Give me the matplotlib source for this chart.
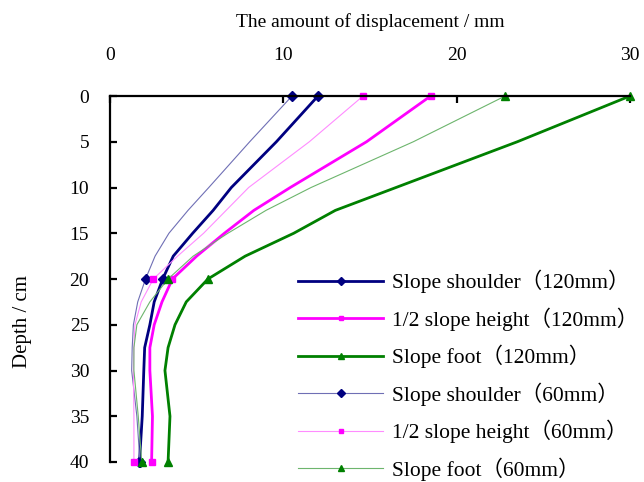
import matplotlib
matplotlib.use("Agg")
import matplotlib.pyplot as plt

depth = [0, 5, 10, 12.5, 15, 17.5, 20, 22.5, 25, 27.5, 30, 35, 40]

shoulder_120 = [12.0, 9.6, 7.0, 5.95, 4.77, 3.65, 3.04, 2.55, 2.3, 2.0, 1.95, 1.86, 1.7]
half_120 = [18.5, 14.8, 10.4, 8.3, 6.6, 5.0, 3.6, 3.0, 2.55, 2.3, 2.3, 2.45, 2.4]
foot_120 = [30.0, 23.5, 16.5, 13.0, 10.6, 7.8, 5.65, 4.4, 3.75, 3.35, 3.17, 3.46, 3.35]
shoulder_60 = [10.5, 8.06, 5.7, 4.5, 3.4, 2.6, 2.05, 1.6, 1.35, 1.28, 1.25, 1.55, 1.73]
half_60 = [14.6, 11.5, 8.0, 6.7, 5.4, 3.9, 2.5, 1.8, 1.44, 1.38, 1.35, 1.38, 1.38]
foot_60 = [22.8, 17.5, 11.6, 9.0, 6.8, 4.8, 3.35, 2.3, 1.55, 1.38, 1.38, 1.63, 1.83]

labels = ["Slope shoulder\uff08120mm\uff09", "1/2 slope height\uff08120mm\uff09",
          "Slope foot\uff08120mm\uff09", "Slope shoulder\uff0860mm\uff09",
          "1/2 slope height\uff0860mm\uff09", "Slope foot\uff0860mm\uff09"]

xticks = [0, 10, 20, 30]
yticks = [0, 5, 10, 15, 20, 25, 30, 35, 40]

plt.rcParams['font.family'] = ['Liberation Serif', 'Noto Sans CJK SC']

W, H = 644, 482
fig = plt.figure(figsize=(W / 100, H / 100), dpi=100)
ax = fig.add_axes([110 / W, (H - 462) / H, 520 / W, 366 / H])

navy, mag, grn = '#000080', '#FF00FF', '#008000'
series = [
    (shoulder_120, navy, navy, 'D', 2.0, 5),
    (half_120, mag, mag, 's', 2.0, 4),
    (foot_120, grn, grn, '^', 2.0, 6),
    (shoulder_60, '#6F6FB5', navy, 'D', 0.8, 5),
    (half_60, '#FF8CFF', mag, 's', 0.8, 4),
    (foot_60, '#6DB56D', grn, '^', 0.8, 6),
]
mark_idx = [0, depth.index(20), len(depth) - 1]
for (vals, lc, mc, m, lw, ms), lab in zip(series, labels):
    ax.plot(vals, depth, color=lc, lw=lw, marker=m, ms=ms, markevery=mark_idx,
            markerfacecolor=mc, markeredgecolor=mc, label=lab, clip_on=False)

ax.set_xlim(0, 30)
ax.set_ylim(40, 0)
ax.set_xticks(xticks)
ax.set_yticks(yticks)
ax.xaxis.tick_top()
for s in ['right', 'bottom']:
    ax.spines[s].set_visible(False)
for s in ['left', 'top']:
    ax.spines[s].set_linewidth(1.6)
ax.tick_params(axis='x', direction='in', length=5, width=1.6, pad=23, labelsize=14)
ax.tick_params(axis='y', direction='in', length=5, width=1.6, pad=15, labelsize=14)

ax.xaxis.set_label_position('top')
ax.set_xlabel('The amount of displacement / mm', fontsize=14)
ax.xaxis.label.set_va('center')
ax.xaxis.set_label_coords(0.5, (462 - 22) / 366)
ax.set_ylabel('Depth / cm', fontsize=15)
ax.yaxis.label.set_va('center')
ax.yaxis.set_label_coords((22 - 110) / 520, (462 - 322) / 366)

leg = ax.legend(loc='upper left', bbox_to_anchor=(298 / W, (H - 270) / H),
                bbox_transform=fig.transFigure, frameon=False, fontsize=15.5,
                handlelength=3.95, handletextpad=0.4, labelspacing=0.65,
                markerscale=0.8, borderpad=0, borderaxespad=0)

fig.savefig('out.png', dpi=100)
